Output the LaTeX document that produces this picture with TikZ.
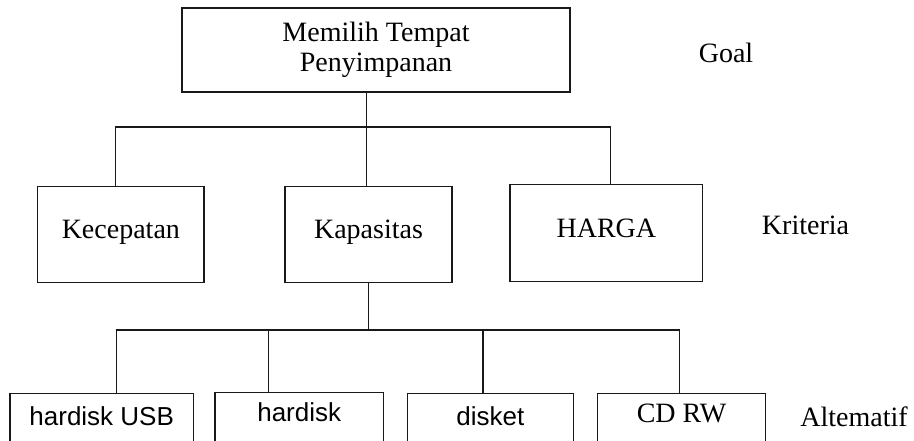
\documentclass[tikz,border=0pt]{standalone}
\usepackage{fontspec}
\setmainfont{Liberation Serif}
\newfontfamily\sansf{Liberation Sans}
\begin{document}
\begin{tikzpicture}[x=1pt,y=-1pt,
  box/.style={draw=black!90,line width=1.3pt,rectangle,inner sep=0pt,anchor=north,
    font=\fontsize{28}{29.5}\selectfont},
  altbox/.style={draw=black!90,line width=1.3pt,rectangle,inner xsep=0pt,inner ysep=0pt,anchor=north,
    font=\sansf\fontsize{26}{28}\selectfont, text height=31.5pt, text depth=40pt},
  lbl/.style={anchor=base,inner sep=0pt,font=\fontsize{28}{29.5}\selectfont},
  conn/.style={draw=black!90,line width=1.3pt}]
\clip (0,0) rectangle (914,441);
% goal
\node[draw=black!90,line width=1.3pt,rectangle,inner sep=0pt,align=center,
  minimum width=388pt,minimum height=84pt,font=\fontsize{28}{29.5}\selectfont]
  (goal) at (376,50) {Memilih Tempat\\Penyimpanan};
% criteria
\node[box,minimum width=166.3pt,text height=52pt,text depth=44pt] (kec) at (120.85,186) {Kecepatan};
\node[box,minimum width=167pt,text height=52pt,text depth=44pt] (kap) at (368.5,186) {Kapasitas};
\node[box,minimum width=192.7pt,text height=53pt,text depth=44pt] (har) at (606.35,184) {HARGA};
% alternatives
\node[altbox,minimum width=183.3pt] (usb) at (101.7,393) {hardisk USB};
\node[altbox,minimum width=168.3pt,text height=29.5pt] (hd) at (299.2,391.5) {hardisk};
\node[altbox,minimum width=166pt] (dk) at (490.3,393) {disket};
\node[altbox,minimum width=168.4pt,font=\fontsize{28}{29.5}\selectfont,text height=29.5pt] (cd) at (681.5,392.5) {CD RW};
% side labels
\node[lbl] (lgoal) at (726,63) {Goal};
\node[lbl] (lkri) at (805.5,235) {Kriteria};
\node[lbl] (lalt) at (854,426.5) {Altematif};
% connectors
\coordinate (j1) at (366.7,127);
\coordinate (kx) at (115.7,127);
\coordinate (hx) at (610.3,127);
\coordinate (j2) at (368.7,330);
\coordinate (b1) at (116.7,330);
\coordinate (b2) at (268.7,330);
\coordinate (b3) at (483,330);
\coordinate (b4) at (679.5,330);
\draw[conn] (goal.south -| j1) -- (kap.north -| j1);
\draw[conn] (kec.north -| kx) -- (kx) -- (hx) -- (har.north -| hx);
\draw[conn] (kap.south -| j2) -- (j2);
\draw[conn] (usb.north -| b1) -- (b1) -- (b4) -- (cd.north -| b4);
\draw[conn] (hd.north -| b2) -- (b2);
\draw[conn] (dk.north -| b3) -- (b3);
\end{tikzpicture}
\end{document}
